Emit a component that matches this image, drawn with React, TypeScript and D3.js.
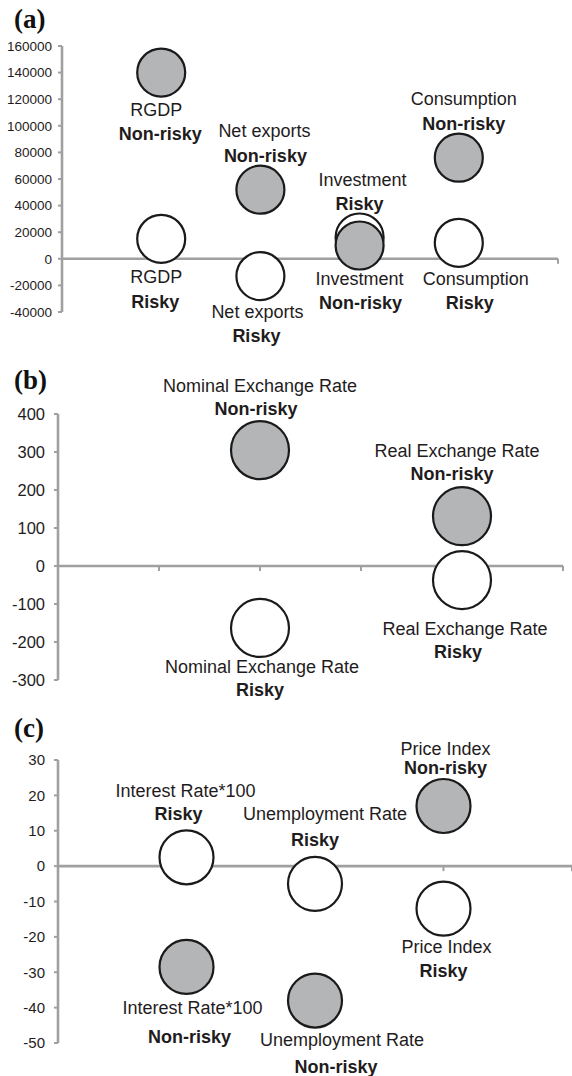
import React from 'react';
import * as d3 from 'd3';

// panel (a): national accounts
const aCategories = ['RGDP', 'Net exports', 'Investment', 'Consumption'];
const aXPos = [1, 2, 3, 4];
const aRisky = [15000, -13000, 16000, 12000];
const aNonRisky = [140000, 52000, 10000, 76000];
const aTicks = [-40000, -20000, 0, 20000, 40000, 60000, 80000, 100000, 120000, 140000, 160000];

// panel (b): exchange rates
const bCategories = ['Nominal Exchange Rate', 'Real Exchange Rate'];
const bXPos = [2, 4];
const bRisky = [-163, -37];
const bNonRisky = [305, 131];
const bTicks = [-300, -200, -100, 0, 100, 200, 300, 400];

// panel (c): rates and prices
const cCategories = ['Interest Rate*100', 'Unemployment Rate', 'Price Index'];
const cXPos = [1, 2, 3];
const cRisky = [2.5, -5, -12];
const cNonRisky = [-28.5, -38, 17];
const cTicks = [-50, -40, -30, -20, -10, 0, 10, 20, 30];

const AXIS = '#a0a0a0';
const FILL = '#b4b5b7';
const INK = '#1a1a1a';
const TEXT = '#1f1c1d';
const SANS = '"Liberation Sans", Arial, Helvetica, sans-serif';
const SERIF = '"Liberation Serif", "Times New Roman", serif';

// label offsets (px) from circle centre: [nameDx, nameDy, statusDx, statusDy]
type Off = [number, number, number, number];

interface PanelProps {
  title: string;
  titleY: number;
  categories: string[];
  xPos: number[];
  risky: number[];
  nonRisky: number[];
  ticks: number[];
  xDomain: [number, number];
  xRange: [number, number];
  yDomain: [number, number];
  yRange: [number, number];
  xTicks: number[];
  r: number;
  tickSize: number;
  tickGap: number;
  riskyOff: Off[];
  nonRiskyOff: Off[];
  nonRiskyOnTop?: boolean;
}

const Panel: React.FC<PanelProps> = (p) => {
  const x = d3.scaleLinear().domain(p.xDomain).range(p.xRange);
  const y = d3.scaleLinear().domain(p.yDomain).range(p.yRange);
  const x0 = p.xRange[0];
  const y0 = y(0);

  const circles = (vals: number[], filled: boolean) =>
    vals.map((v, i) => (
      <circle
        key={(filled ? 'n' : 'r') + i}
        cx={x(p.xPos[i])}
        cy={y(v)}
        r={p.r}
        fill={filled ? FILL : '#fff'}
        stroke={INK}
        strokeWidth={2.2}
      />
    ));

  const labels = (vals: number[], offs: Off[], status: string) =>
    vals.map((v, i) => {
      const cx = x(p.xPos[i]);
      const cy = y(v);
      const o = offs[i];
      return (
        <g key={status + i} fontFamily={SANS} fontSize={18} fill={TEXT} textAnchor="middle">
          <text x={cx + o[0]} y={cy + o[1]} dy="0.35em">{p.categories[i]}</text>
          <text x={cx + o[2]} y={cy + o[3]} dy="0.35em" fontWeight="bold">{status}</text>
        </g>
      );
    });

  return (
    <g>
      <text x={14} y={p.titleY} fontFamily={SERIF} fontWeight="bold" fontSize={27} fill="#111">{p.title}</text>
      {/* y axis */}
      <line x1={x0} x2={x0} y1={y(p.yDomain[0])} y2={y(p.yDomain[1])} stroke={AXIS} strokeWidth={2.6} />
      {p.ticks.map((t) => (
        <g key={t}>
          <line x1={x0 - 4} x2={x0} y1={y(t)} y2={y(t)} stroke={AXIS} strokeWidth={2} />
          <text
            x={x0 - p.tickGap}
            y={y(t)}
            dy="0.35em"
            textAnchor="end"
            fontFamily={SANS}
            fontSize={p.tickSize}
            fill={TEXT}
          >
            {t}
          </text>
        </g>
      ))}
      {/* x axis at zero */}
      <line x1={x0} x2={p.xRange[1]} y1={y0} y2={y0} stroke={AXIS} strokeWidth={2.6} />
      {p.xTicks.map((t) => (
        <line key={t} x1={x(t)} x2={x(t)} y1={y0} y2={y0 + 5} stroke={AXIS} strokeWidth={2} />
      ))}
      {p.nonRiskyOnTop
        ? [circles(p.risky, false), circles(p.nonRisky, true)]
        : [circles(p.nonRisky, true), circles(p.risky, false)]}
      {labels(p.nonRisky, p.nonRiskyOff, 'Non-risky')}
      {labels(p.risky, p.riskyOff, 'Risky')}
    </g>
  );
};

const App: React.FC = () => {
  return (
    <svg width={572} height={1076} style={{ position: 'absolute', left: 0, top: 0, background: '#fff' }}>
      <Panel
        title="(a)"
        titleY={28}
        categories={aCategories}
        xPos={aXPos}
        risky={aRisky}
        nonRisky={aNonRisky}
        ticks={aTicks}
        xDomain={[0, 5]}
        xRange={[62, 558]}
        yDomain={[-40000, 160000]}
        yRange={[312, 46]}
        xTicks={[1, 2, 3, 4, 5]}
        r={24}
        tickSize={13.5}
        tickGap={10}
        nonRiskyOnTop
        nonRiskyOff={[
          [-5, 37, -1, 61],
          [4, -59, 5, -34],
          [0, 33.5, 1, 57.5],
          [5, -59, 5, -34],
        ]}
        riskyOff={[
          [-5, 38, -6, 63],
          [-3, 36, -4, 60],
          [3, -57.5, 0, -33.5],
          [17, 36, 11, 60],
        ]}
      />
      <Panel
        title="(b)"
        titleY={389}
        categories={bCategories}
        xPos={bXPos}
        risky={bRisky}
        nonRisky={bNonRisky}
        ticks={bTicks}
        xDomain={[0, 5]}
        xRange={[58, 563]}
        yDomain={[-300, 400]}
        yRange={[680, 414]}
        xTicks={[1, 2, 3, 4, 5]}
        r={29}
        tickSize={16.5}
        tickGap={13}
        nonRiskyOff={[
          [0, -64, -4, -41],
          [-5, -66, -10, -43],
        ]}
        riskyOff={[
          [2, 39, 0, 62],
          [3, 49, -4, 72],
        ]}
      />
      <Panel
        title="(c)"
        titleY={737}
        categories={cCategories}
        xPos={cXPos}
        risky={cRisky}
        nonRisky={cNonRisky}
        ticks={cTicks}
        xDomain={[0, 4]}
        xRange={[58, 572]}
        yDomain={[-50, 30]}
        yRange={[1043, 760]}
        xTicks={[1, 2, 3, 4]}
        r={27}
        tickSize={15}
        tickGap={13}
        nonRiskyOff={[
          [6, 41, 3, 70],
          [27, 39, 21, 66],
          [2, -57, 2, -38],
        ]}
        riskyOff={[
          [-1, -67, -8, -44],
          [10, -70, 0, -44],
          [3, 38, 0, 62],
        ]}
      />
    </svg>
  );
};

export default App;
